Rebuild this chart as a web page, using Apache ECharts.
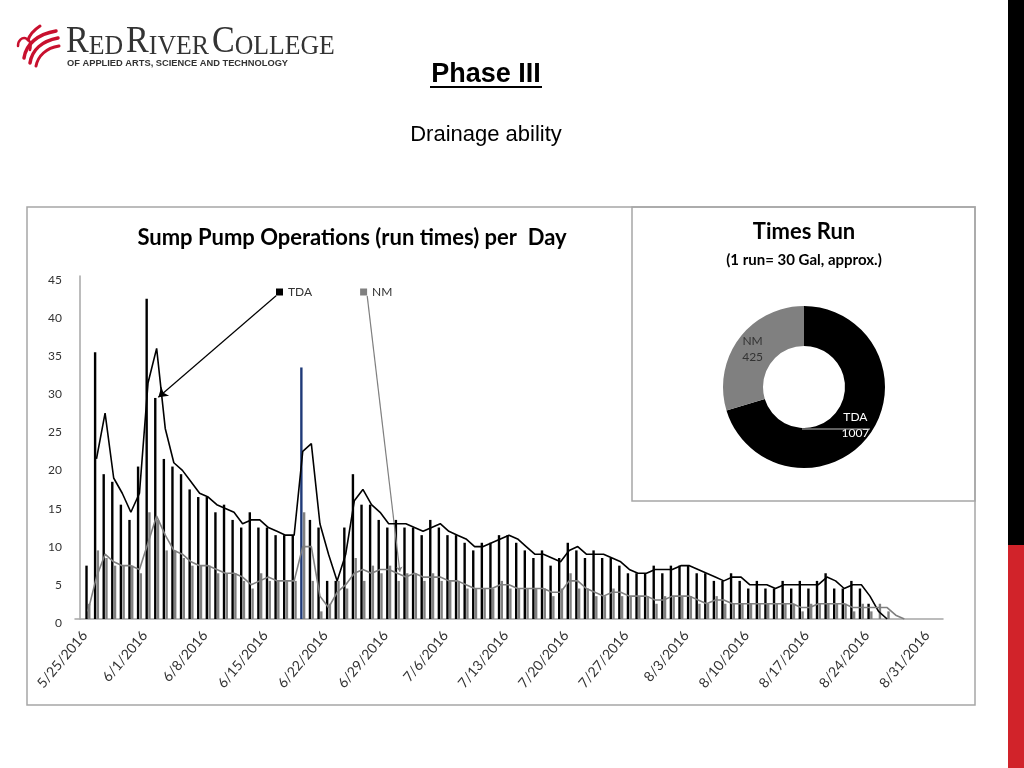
<!DOCTYPE html>
<html><head><meta charset="utf-8">
<script src="https://cdn.jsdelivr.net/npm/echarts@6/dist/echarts.min.js"></script>
<style>html,body{margin:0;padding:0;background:#fff;}#c{width:1024px;height:768px;}</style>
</head><body><div id="c"></div>
<script>
// ---- axis categories (daily dates) ----
const axisStart = [2016, 4, 24];      // 5/24/2016 (axis starts one day before data)
const dayCount = 101;                  // through 9/1/2016
const labelEvery = 7;                  // weekly tick labels
const firstLabel = '5/25/2016';

// ---- data (runs per day), first value is 5/25/2016 ----
const tdaStart = '5/25/2016';
const tda = [7,35,19,18,15,13,20,42,29,21,
  20,19,17,16,16,14,15,13,12,14,
  12,12,11,11,11,33,13,12,5,5,
  12,19,15,15,13,12,13,12,12,11,
  13,12,11,11,10,9,10,10,11,11,
  10,9,8,9,7,8,10,9,8,9,
  8,8,7,6,6,6,7,6,7,7,
  7,6,6,5,5,6,5,4,5,4,
  4,5,4,5,4,5,6,4,4,5,
  4,2,0,0];
const nmStart = '5/25/2016';
const nm = [2,9,8,7,7,7,6,14,13,9,
  9,8,7,7,7,6,6,6,5,4,
  6,5,5,5,5,14,5,1,2,5,
  4,8,5,7,6,7,5,6,6,5,
  6,5,5,5,4,4,4,4,5,4,
  4,4,4,4,3,4,6,4,4,3,
  3,4,3,3,3,3,2,3,3,3,
  3,2,2,3,2,2,2,2,2,2,
  2,2,2,1,2,2,2,2,2,1,
  2,1,2,1,0,0];
const highlightDay = '6/19/2016';

// ---- 2-day moving-average trend lines as drawn in the chart ----
const tdaTrendStart = '5/26/2016';
const tdaTrend = [21,27,18.5,16.5,14,16.5,31,35.5,25,
  20.5,19.5,18,16.5,16,15,14.5,14,12.5,13,
  13,12,11.5,11,11,22,23,12.5,8.5,5,
  8.5,15.5,17,15,14,12.5,12.5,12.5,12,11.5,
  12,12.5,11.5,11,10.5,9.5,9.5,10,10.5,11,
  10.5,9.5,8.5,8.5,8,7.5,9,9.5,8.5,8.5,
  8.5,8,7.5,6.5,6,6,6.5,6.5,6.5,7,
  7,6.5,6,5.5,5,5.5,5.5,4.5,4.5,4.5,
  4,4.5,4.5,4.5,4.5,4.5,5.5,5,4,4.5,
  4.5,3,1,0];
const nmTrendStart = '5/25/2016';
const nmTrend = [1,5.5,8.5,7.5,7,7,6.5,10,13.5,11,
  9,8.5,7.5,7,7,6.5,6,6,5.5,4.5,
  5,5.5,5,5,5,9.5,9.5,3,1.5,3.5,
  4.5,6,6.5,6,6.5,6.5,6,5.5,6,5.5,
  5.5,5.5,5,5,4.5,4,4,4,4.5,4.5,
  4,4,4,4,3.5,3.5,5,5,4,3.5,
  3,3.5,3.5,3,3,3,2.5,2.5,3,3,
  3,2.5,2,2.5,2.5,2,2,2,2,2,
  2,2,2,1.5,1.5,2,2,2,2,1.5,
  1.5,1.5,1.5,1.5,0.5,0];

// ---- donut totals ----
const totalNames = ['TDA', 'NM'];
const totalValues = [1007, 425];

// ---- build categories ----
const dates = [];
const t0 = Date.UTC(axisStart[0], axisStart[1], axisStart[2]);
for (let i = 0; i < dayCount; i++) {
  const d = new Date(t0 + i * 86400000);
  dates.push((d.getUTCMonth() + 1) + '/' + d.getUTCDate() + '/' + d.getUTCFullYear());
}
const firstLabelIdx = dates.indexOf(firstLabel);
function align(arr, startName, styler) {
  const out = new Array(dayCount).fill(null);
  const off = dates.indexOf(startName);
  arr.forEach((v, i) => { if (off + i < dayCount) out[off + i] = styler ? styler(v, dates[off + i]) : v; });
  return out;
}

const FONT = 'Lato, "Noto Sans", sans-serif';
const AXIS_GREY = '#a6a6a6';
const RED = '#c8102e';
const chart = echarts.init(document.getElementById('c'), null, {renderer: 'canvas'});

function curve(x1, y1, c1x, c1y, c2x, c2y, x2, y2, w) {
  return {type: 'bezierCurve', silent: true,
    shape: {x1: x1, y1: y1, cpx1: c1x, cpy1: c1y, cpx2: c2x, cpy2: c2y, x2: x2, y2: y2},
    style: {fill: 'none', stroke: RED, lineWidth: w, lineCap: 'round'}};
}

const option = {
  animation: false,
  backgroundColor: '#fff',
  title: [
    {text: 'Phase III', left: 486, top: 61, textAlign: 'center', padding: 0,
     textStyle: {fontFamily: '"Liberation Sans", Arial, sans-serif', fontSize: 27, fontWeight: 'bold', color: '#000'}},
    {text: 'Drainage ability', left: 486, top: 124, textAlign: 'center', padding: 0,
     textStyle: {fontFamily: '"Liberation Sans", Arial, sans-serif', fontSize: 22, fontWeight: 'normal', color: '#000'}},
    {text: 'Sump Pump Operations (run times) per  Day', left: 352, top: 227, textAlign: 'center', padding: 0,
     textStyle: {fontFamily: FONT, fontSize: 22, fontWeight: 'bold', color: '#000'}},
    {text: 'Times Run', left: 804, top: 221, textAlign: 'center', padding: 0,
     textStyle: {fontFamily: FONT, fontSize: 22, fontWeight: 'bold', color: '#000'}},
    {text: '(1 run= 30 Gal, approx.)', left: 804, top: 253, textAlign: 'center', padding: 0,
     textStyle: {fontFamily: FONT, fontSize: 15, fontWeight: 'bold', color: '#000'}}
  ],
  legend: {
    data: ['TDA', 'NM'], left: 271, top: 281, icon: 'rect', itemWidth: 7, itemHeight: 7, itemGap: 48,
    selectedMode: false, textStyle: {fontFamily: FONT, fontSize: 12, color: '#333'}
  },
  grid: {left: 75, width: 868, top: 276, height: 343, containLabel: false},
  xAxis: [
    {type: 'category', data: dates, boundaryGap: true,
     axisLine: {lineStyle: {color: AXIS_GREY, width: 1.5}}, axisTick: {show: false},
     axisLabel: {interval: (i) => (i - firstLabelIdx) % labelEvery === 0, rotate: 50, margin: 10,
                 padding: [0, 5, 0, 0], fontFamily: FONT, fontSize: 14, color: '#333'}},
    {type: 'value', min: -0.5, max: dayCount - 0.5, show: false}
  ],
  yAxis: {type: 'value', min: 0, max: 45, interval: 5,
    axisLine: {show: true, lineStyle: {color: AXIS_GREY, width: 1.5}}, axisTick: {show: false},
    splitLine: {show: false},
    axisLabel: {fontFamily: FONT, fontSize: 12, color: '#333', margin: 13, verticalAlign: 'top', lineHeight: 8}},
  series: [
    {name: 'TDA', type: 'bar', barWidth: 2.4, barGap: '15%', itemStyle: {color: '#000'},
     data: align(tda, tdaStart, (v, d) => d === highlightDay ? {value: v, itemStyle: {color: '#1f3a78'}} : v)},
    {name: 'NM', type: 'bar', barWidth: 2.4, barGap: '15%', itemStyle: {color: '#808080'},
     data: align(nm, nmStart)},
    {name: 'TDA trend', type: 'line', data: align(tdaTrend, tdaTrendStart), showSymbol: false, z: 5,
     lineStyle: {color: '#000', width: 1.6}, itemStyle: {color: '#000'}},
    {name: 'NM trend', type: 'line', data: align(nmTrend, nmTrendStart), showSymbol: false, z: 5,
     lineStyle: {color: '#7f7f7f', width: 1.6}, itemStyle: {color: '#7f7f7f'}},
    {name: 'callouts', type: 'line', xAxisIndex: 1, data: [], silent: true,
     markLine: {silent: true, animation: false, label: {show: false},
       data: [
         [{coord: [22.9, 42.4], symbol: 'none', lineStyle: {color: '#000', width: 1.2, type: 'solid'}},
          {coord: [9.2, 29.1], symbol: 'arrow', symbolSize: 9}],
         [{coord: [33.5, 42.4], symbol: 'none', lineStyle: {color: '#7f7f7f', width: 1.2, type: 'solid'}},
          {coord: [37.3, 6.2], symbol: 'arrow', symbolSize: 5}]
       ]}},
    {name: 'Times Run', type: 'pie', radius: [41, 81], center: [804, 387], startAngle: 90, clockwise: true,
     silent: true, avoidLabelOverlap: false,
     label: {show: true, position: 'inside', formatter: '{b}\n{c}', fontFamily: FONT, fontSize: 12, lineHeight: 16},
     labelLine: {show: false},
     data: totalNames.map((n, i) => ({name: n, value: totalValues[i],
       itemStyle: {color: n === 'TDA' ? '#000' : '#808080'},
       label: {color: n === 'TDA' ? '#fff' : '#333'}}))}
  ],
  graphic: [
    {type: 'rect', shape: {x: 27, y: 207, width: 948, height: 498}, style: {fill: 'none', stroke: '#a6a6a6', lineWidth: 1.5}, silent: true, z: -10},
    {type: 'rect', shape: {x: 632, y: 207, width: 343, height: 294}, style: {fill: 'none', stroke: '#a6a6a6', lineWidth: 1.5}, silent: true, z: -10},
    {type: 'rect', shape: {x: 1008, y: 0, width: 16, height: 545}, style: {fill: '#000'}, silent: true},
    {type: 'rect', shape: {x: 1008, y: 545, width: 16, height: 223}, style: {fill: '#d1232a'}, silent: true},
    {type: 'line', shape: {x1: 430, y1: 87, x2: 542, y2: 87}, style: {stroke: '#000', lineWidth: 2}, silent: true},
    {type: 'line', shape: {x1: 802, y1: 429, x2: 870, y2: 429}, style: {stroke: '#bfbfbf', lineWidth: 1}, silent: true, z: 100},
    {type: 'text', x: 66, y: 24, silent: true, scaleX: 0.92,
     style: {text: '{b|R}{s|ED} {b|R}{s|IVER} {b|C}{s|OLLEGE}', fill: '#333',
       rich: {b: {fontFamily: '"Liberation Serif", "DejaVu Serif", serif', fontSize: 37, fill: '#333', verticalAlign: 'bottom'},
              s: {fontFamily: '"Liberation Serif", "DejaVu Serif", serif', fontSize: 28, fill: '#333', verticalAlign: 'bottom'}}}},
    {type: 'text', x: 67, y: 59, silent: true,
     style: {text: 'OF APPLIED ARTS, SCIENCE AND TECHNOLOGY', fill: '#333',
       font: 'bold 9.3px "Liberation Sans", Arial, sans-serif'}},
    curve(24, 58, 26, 44, 38, 34, 56, 31, 3.5),
    curve(30, 63, 32, 50, 42, 41, 58, 38, 3.5),
    curve(36, 66, 38, 56, 46, 48, 59, 46, 3),
    curve(40, 26, 34, 30, 30, 34, 28, 40, 3),
    curve(18, 46, 18, 34, 34, 36, 30, 50, 2.5)
  ]
};
chart.setOption(option);
</script>
</body></html>
